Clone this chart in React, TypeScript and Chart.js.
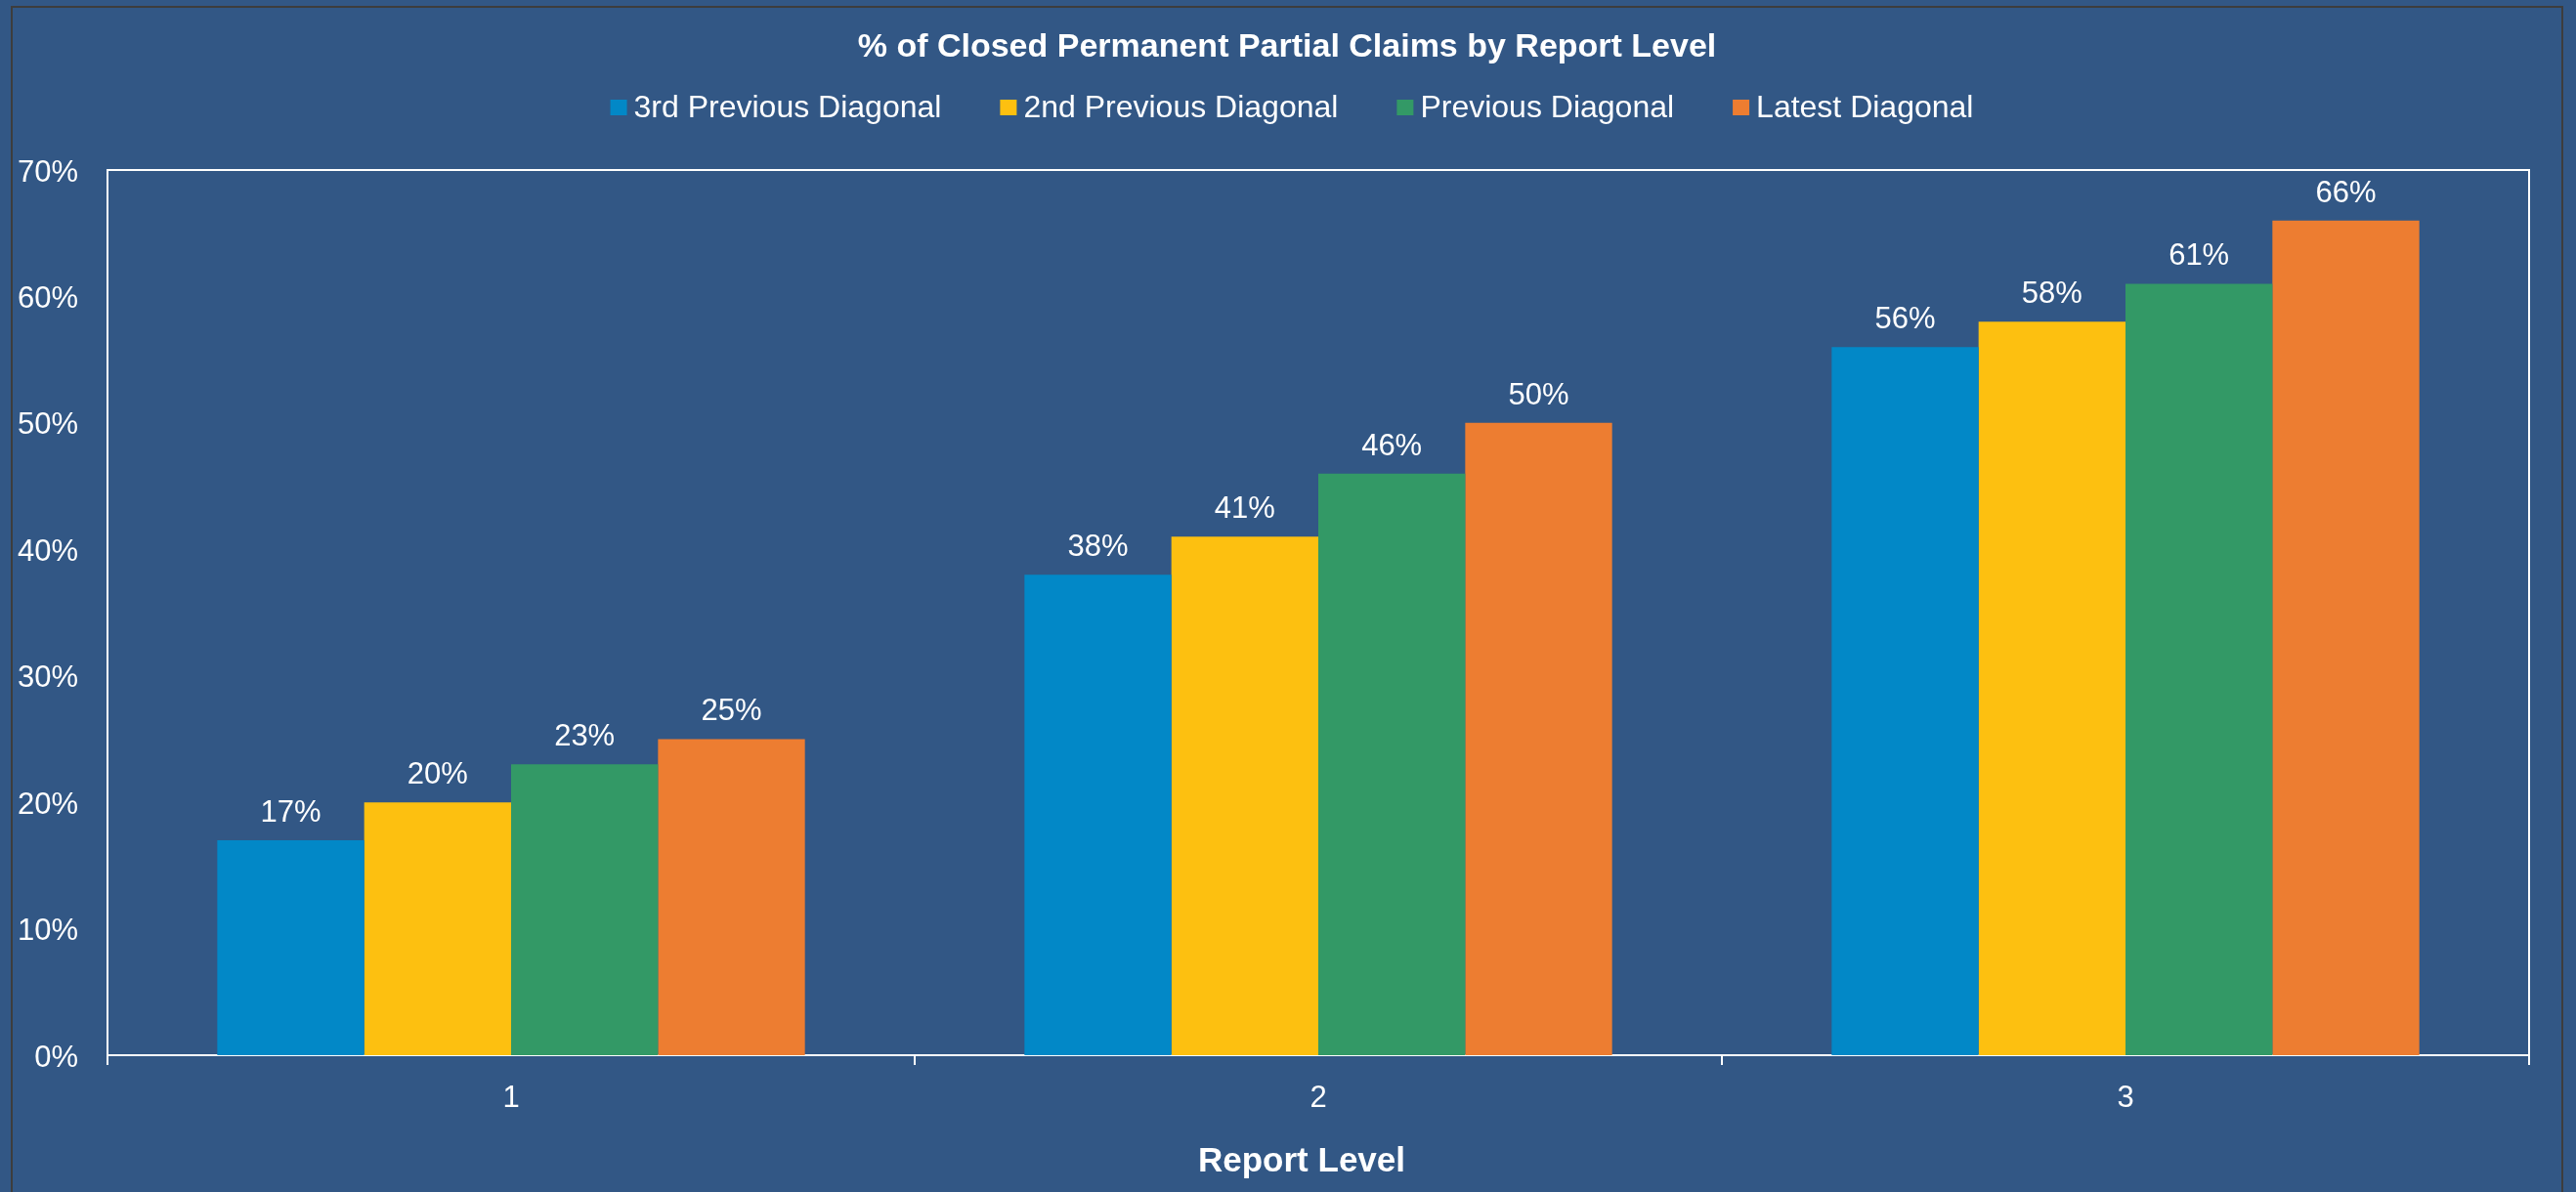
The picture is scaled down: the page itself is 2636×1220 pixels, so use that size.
import React, { useEffect, useRef } from "react";
import { Chart, registerables } from "chart.js";

Chart.register(...registerables);

const categories = ["1", "2", "3"];
const seriesNames = ["3rd Previous Diagonal", "2nd Previous Diagonal", "Previous Diagonal", "Latest Diagonal"];
const thirdPrevious = [17, 38, 56];
const secondPrevious = [20, 41, 58];
const previous = [23, 46, 61];
const latest = [25, 50, 66];
const seriesColors = ["#0288C7", "#FDC010", "#339966", "#ED7D31"];
const yTicks = [0, 10, 20, 30, 40, 50, 60, 70];

const titleText = "% of Closed Permanent Partial Claims by Report Level";
const xTitleText = "Report Level";

const BG = "#325785";
const FONT = "'Liberation Sans', Arial, sans-serif";

const W = 2636;
const H = 1220;

const decorPlugin = {
  id: "decor",
  beforeDraw(chart: any) {
    const ctx = chart.ctx;
    ctx.save();
    ctx.fillStyle = BG;
    ctx.fillRect(0, 0, chart.width, chart.height);
    ctx.strokeStyle = "#3d3d3d";
    ctx.lineWidth = 2;
    ctx.beginPath();
    ctx.moveTo(12, H + 5);
    ctx.lineTo(12, 7);
    ctx.lineTo(2622, 7);
    ctx.lineTo(2622, H + 5);
    ctx.stroke();
    ctx.restore();
  },
  afterDatasetsDraw(chart: any) {
    const ctx = chart.ctx;
    ctx.save();
    ctx.fillStyle = "#ffffff";
    ctx.font = `31px ${FONT}`;
    ctx.textAlign = "center";
    ctx.textBaseline = "alphabetic";
    chart.data.datasets.forEach((ds: any, di: number) => {
      const meta = chart.getDatasetMeta(di);
      meta.data.forEach((bar: any, i: number) => {
        ctx.fillText(`${ds.data[i]}%`, bar.x, bar.y - 19);
      });
    });
    const a = chart.chartArea;
    ctx.strokeStyle = "#ffffff";
    ctx.lineWidth = 2;
    ctx.beginPath();
    ctx.moveTo(a.left, a.bottom);
    ctx.lineTo(a.left, a.top);
    ctx.lineTo(a.right, a.top);
    ctx.lineTo(a.right, a.bottom);
    ctx.stroke();
    ctx.restore();
  },
  afterDraw(chart: any) {
    const ctx = chart.ctx;
    ctx.save();
    ctx.fillStyle = "#ffffff";
    ctx.font = `bold 34px ${FONT}`;
    ctx.textAlign = "center";
    ctx.textBaseline = "alphabetic";
    ctx.fillText(titleText, 1317, 58);
    ctx.font = `bold 35px ${FONT}`;
    ctx.fillText(xTitleText, 1332, 1199);
    ctx.font = `32px ${FONT}`;
    ctx.textAlign = "left";
    const boxW = 17;
    const boxH = 16;
    const gapBox = 7;
    const gapItem = 60;
    const items = chart.data.datasets.map((ds: any) => ({
      label: ds.label,
      color: ds.backgroundColor,
      w: ctx.measureText(ds.label).width,
    }));
    const total = items.reduce((s: number, it: any) => s + boxW + gapBox + it.w, 0) + gapItem * (items.length - 1);
    let x = 1322 - total / 2;
    items.forEach((it: any) => {
      ctx.fillStyle = it.color;
      ctx.fillRect(x, 102, boxW, boxH);
      ctx.fillStyle = "#ffffff";
      ctx.fillText(it.label, x + boxW + gapBox, 120);
      x += boxW + gapBox + it.w + gapItem;
    });
    ctx.restore();
  },
};

export default function App() {
  const canvasRef = useRef<HTMLCanvasElement | null>(null);

  useEffect(() => {
    if (!canvasRef.current) return;
    const seriesData = [thirdPrevious, secondPrevious, previous, latest];
    const chart = new Chart(canvasRef.current, {
      type: "bar",
      data: {
        labels: categories,
        datasets: seriesNames.map((name, i) => ({
          label: name,
          data: seriesData[i],
          backgroundColor: seriesColors[i],
          borderWidth: 0,
          categoryPercentage: 0.728,
          barPercentage: 1.0,
        })),
      },
      options: {
        responsive: false,
        animation: false,
        devicePixelRatio: 1,
        layout: { padding: { left: 12, top: 174, right: 48, bottom: 0 } },
        plugins: {
          legend: { display: false },
          title: { display: false },
          tooltip: { enabled: false },
        },
        scales: {
          x: {
            type: "category",
            afterFit(scale: any) {
              scale.height = 140;
            },
            grid: {
              display: true,
              drawOnChartArea: false,
              drawTicks: true,
              tickLength: 10,
              color: "#ffffff",
              lineWidth: 2,
              offset: true,
            },
            border: { display: true, color: "#ffffff", width: 2 },
            ticks: {
              color: "#ffffff",
              font: { family: FONT, size: 31 },
              padding: 16,
            },
          },
          y: {
            min: 0,
            max: 70,
            afterFit(scale: any) {
              scale.width = 98;
            },
            afterBuildTicks(scale: any) {
              scale.ticks = yTicks.map((v) => ({ value: v }));
            },
            grid: { display: false, drawTicks: false },
            border: { display: true, color: "#ffffff", width: 2 },
            ticks: {
              color: "#ffffff",
              font: { family: FONT, size: 31 },
              padding: 30,
              labelOffset: 3,
              callback: (v: any) => `${v}%`,
            },
          },
        },
      },
      plugins: [decorPlugin],
    });
    return () => chart.destroy();
  }, []);

  return (
    <div
      style={{
        position: "fixed",
        left: 0,
        top: 0,
        width: W,
        height: H,
        background: BG,
        overflow: "hidden",
      }}
    >
      <canvas ref={canvasRef} width={W} height={H} style={{ display: "block", width: W, height: H }} />
    </div>
  );
}
